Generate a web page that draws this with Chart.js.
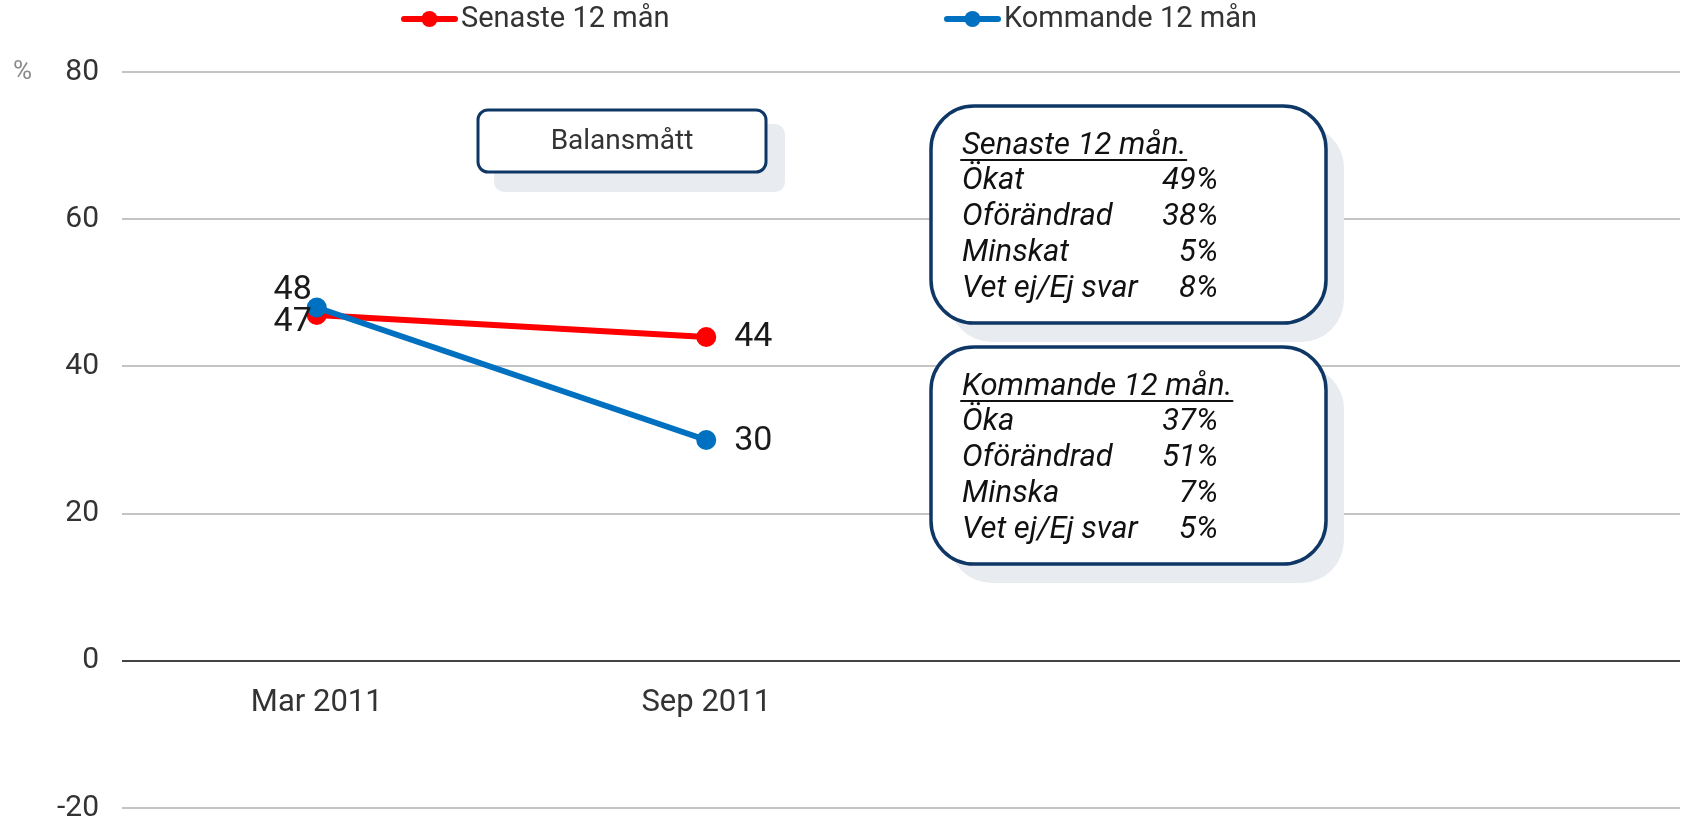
<!DOCTYPE html>
<html>
<head>
<meta charset="utf-8">
<script src="https://cdn.jsdelivr.net/npm/chart.js@4.4.1/dist/chart.umd.min.js"></script>
<style>
  html, body { margin: 0; padding: 0; background: #fff; overflow: hidden; }
  #wrap { width: 1690px; height: 818px; position: relative; }
  canvas { display: block; }
</style>
</head>
<body>
<div id="wrap"><canvas id="balansChart"></canvas></div>
<script>
const categories = ['Mar 2011', 'Sep 2011', '', ''];
const senaste = [47, 44, null, null];
const kommande = [48, 30, null, null];
const yMin = -20, yMax = 80, yStep = 20;

const senasteRows = ['Ökat', 'Oförändrad', 'Minskat', 'Vet ej/Ej svar'];
const senasteShares = ['49%', '38%', '5%', '8%'];
const kommandeRows = ['Öka', 'Oförändrad', 'Minska', 'Vet ej/Ej svar'];
const kommandeShares = ['37%', '51%', '7%', '5%'];

const navy = '#0e3766';
const shadow = '#e8ebef';
const textDark = '#333333';

Chart.defaults.font.family = 'Roboto, "Open Sans", sans-serif';

// legend, unit label, info boxes
const decorPlugin = {
    id: 'decor',
    afterDraw(chart) {
        const c = chart.ctx;
        c.save();

        // legend
        const legendX = [401, 944];
        chart.data.datasets.forEach((ds, i) => {
            const x0 = legendX[i], y = 19;
            c.strokeStyle = ds.borderColor;
            c.lineWidth = 6;
            c.lineCap = 'round';
            c.beginPath();
            c.moveTo(x0 + 3, y);
            c.lineTo(x0 + 54, y);
            c.stroke();
            c.fillStyle = ds.borderColor;
            c.beginPath();
            c.arc(x0 + 28.5, y, 8, 0, Math.PI * 2);
            c.fill();
            c.fillStyle = textDark;
            c.font = '29px Roboto';
            c.textAlign = 'left';
            c.textBaseline = 'middle';
            c.fillText(ds.label, x0 + 60, y + 1);
        });

        // unit
        c.fillStyle = '#8a8a8a';
        c.font = '26px Roboto';
        c.textAlign = 'left';
        c.textBaseline = 'middle';
        c.fillText('%', 13, chart.scales.y.getPixelForValue(yMax));

        // "Balansmått" box
        c.fillStyle = shadow;
        c.beginPath(); c.roundRect(494, 124, 291, 68, 10); c.fill();
        c.fillStyle = '#fff';
        c.strokeStyle = navy;
        c.lineWidth = 3;
        c.beginPath(); c.roundRect(478, 110, 288, 62, 10); c.fill(); c.stroke();
        c.fillStyle = textDark;
        c.font = '28px Roboto';
        c.textAlign = 'center';
        c.fillText('Balansmått', 622, 142);

        infoBox(c, 106, 'Senaste 12 mån.', senasteRows, senasteShares);
        infoBox(c, 347, 'Kommande 12 mån.', kommandeRows, kommandeShares);

        c.restore();
    }
};

function infoBox(c, top, title, rows, shares) {
    const left = 931, w = 395, h = 217, r = 43;
    c.fillStyle = shadow;
    c.beginPath(); c.roundRect(left + 18, top + 19, w, h, r); c.fill();
    c.fillStyle = '#fff';
    c.strokeStyle = navy;
    c.lineWidth = 3.5;
    c.beginPath(); c.roundRect(left, top, w, h, r); c.fill(); c.stroke();

    c.fillStyle = '#111';
    c.font = 'italic 31px Roboto';
    c.textBaseline = 'middle';
    c.textAlign = 'left';
    c.fillText(title, 962, top + 40);
    const tw = c.measureText(title).width;
    c.strokeStyle = '#111';
    c.lineWidth = 2;
    c.beginPath();
    c.moveTo(961, top + 54);
    c.lineTo(962 + tw, top + 54);
    c.stroke();

    rows.forEach((label, i) => {
        const y = top + 75 + i * 36;
        c.textAlign = 'left';
        c.fillText(label, 962, y);
        c.textAlign = 'right';
        c.fillText(shares[i], 1218, y);
    });
}

// value labels next to the points
const valueLabels = {
    id: 'valueLabels',
    afterDatasetsDraw(chart) {
        const c = chart.ctx;
        c.save();
        c.font = '34px Roboto';
        c.fillStyle = '#1a1a1a';
        c.textBaseline = 'middle';
        chart.data.datasets.forEach((ds, di) => {
            const meta = chart.getDatasetMeta(di);
            meta.data.forEach((pt, i) => {
                const v = ds.data[i];
                if (v == null) return;
                if (i === 0) {
                    const others = chart.data.datasets.filter((d, k) => k !== di).map(d => d.data[0]);
                    const above = others.every(o => v >= o);
                    c.textAlign = 'right';
                    c.fillText(v, pt.x - 5, above ? pt.y - 17 : pt.y + 8);
                } else {
                    c.textAlign = 'left';
                    c.fillText(v, pt.x + 28, pt.y + 1);
                }
            });
        });
        c.restore();
    }
};

const ctx = document.getElementById('balansChart').getContext('2d');

new Chart(ctx, {
    type: 'line',
    data: {
        labels: categories,
        datasets: [{
            label: 'Senaste 12 mån',
            data: senaste,
            borderColor: '#ff0000',
            backgroundColor: '#ff0000',
            borderWidth: 6,
            pointRadius: 10,
            pointHoverRadius: 10,
            pointBorderWidth: 0,
            order: 2
        }, {
            label: 'Kommande 12 mån',
            data: kommande,
            borderColor: '#0070c0',
            backgroundColor: '#0070c0',
            borderWidth: 6,
            pointRadius: 10,
            pointHoverRadius: 10,
            pointBorderWidth: 0,
            order: 1
        }]
    },
    options: {
        responsive: true,
        maintainAspectRatio: false,
        animation: false,
        layout: { padding: { top: 72, bottom: 10, left: 0, right: 0 } },
        plugins: {
            legend: { display: false },
            tooltip: { enabled: false }
        },
        scales: {
            x: {
                position: { y: 0 },
                offset: true,
                afterFit: s => {
                    s.height = 0;
                    s.paddingLeft = 0;
                    s.paddingRight = 0;
                },
                grid: { display: false, drawTicks: false },
                border: { display: false },
                ticks: {
                    color: textDark,
                    font: { size: 31 },
                    padding: 24,
                    maxRotation: 0
                }
            },
            y: {
                min: yMin,
                max: yMax,
                afterFit: s => {
                    s.width = 122;
                    s.paddingTop = 0;
                    s.paddingBottom = 0;
                },
                border: { display: false },
                grid: {
                    drawTicks: false,
                    lineWidth: 2,
                    color: c => c.tick && c.tick.value === 0 ? '#444444' : '#c4c4c4'
                },
                ticks: {
                    stepSize: yStep,
                    color: textDark,
                    font: { size: 30 },
                    padding: 23
                }
            }
        }
    },
    plugins: [valueLabels, decorPlugin]
});
</script>
</body>
</html>
